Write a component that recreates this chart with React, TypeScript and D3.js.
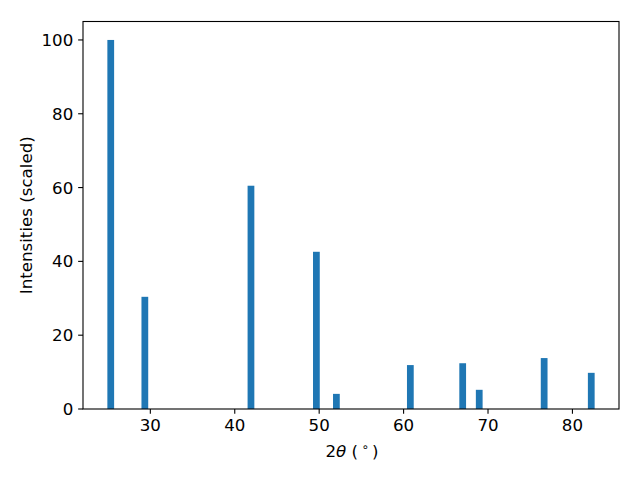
import React from "react";
import * as d3 from "d3";

const angles = [25.31, 29.35, 41.92, 49.67, 52.04, 60.8, 67.0, 68.96, 76.65, 82.23];
const intensities = [100, 30.4, 60.5, 42.6, 4.1, 11.9, 12.4, 5.2, 13.8, 9.8];
const xTicks = [30, 40, 50, 60, 70, 80];
const yTicks = [0, 20, 40, 60, 80, 100];

const W = 640, H = 480;
const L = 83, R = 619, T = 21.5, B = 409;
const barW = 0.8;
const FONT = "DejaVu Sans, sans-serif";
const FS = 16.67;

export default function App() {
  const lo = (d3.min(angles) as number) - barW / 2;
  const hi = (d3.max(angles) as number) + barW / 2;
  const m = (hi - lo) * 0.05;
  const x = d3.scaleLinear().domain([lo - m, hi + m]).range([L, R]);
  const y = d3.scaleLinear().domain([0, 105]).range([B, T]);
  return (
    <svg width={W} height={H} style={{ position: "absolute", left: 0, top: 0, background: "#fff" }}>
      <rect x={0} y={0} width={W} height={H} fill="#fff" />
      {angles.map((a, i) => (
        <rect key={i} x={x(a - barW / 2)} y={y(intensities[i])} width={x(a + barW / 2) - x(a - barW / 2)} height={y(0) - y(intensities[i])} fill="#1f77b4" />
      ))}
      <rect x={L} y={T} width={R - L} height={B - T} fill="none" stroke="#000" strokeWidth={1.1} />
      {xTicks.map((t) => (
        <g key={t}>
          <line x1={x(t)} x2={x(t)} y1={B} y2={B + 4.86} stroke="#000" strokeWidth={1.1} />
          <text x={x(t)} y={430.5} textAnchor="middle" fontFamily={FONT} fontSize={FS} fill="#000">{t}</text>
        </g>
      ))}
      {yTicks.map((t) => (
        <g key={t}>
          <line x1={L - 4.86} x2={L} y1={y(t)} y2={y(t)} stroke="#000" strokeWidth={1.1} />
          <text x={L - 9.7} y={y(t)} dy="0.36em" textAnchor="end" fontFamily={FONT} fontSize={FS} fill="#000">{t}</text>
        </g>
      ))}
      <text x={(L + R) / 2 + 1} y={456.7} textAnchor="middle" fontFamily={FONT} fontSize={FS} fill="#000">
        <tspan>2</tspan><tspan fontStyle="italic">θ</tspan><tspan>{" (\u2009"}</tspan><tspan fontSize={FS * 0.7} dy={-6}>∘</tspan><tspan dy={6}>{"\u2009)"}</tspan>
      </text>
      <text transform={`translate(31.5,${(T + B) / 2}) rotate(-90)`} textAnchor="middle" fontFamily={FONT} fontSize={FS} fill="#000">Intensities (scaled)</text>
    </svg>
  );
}
